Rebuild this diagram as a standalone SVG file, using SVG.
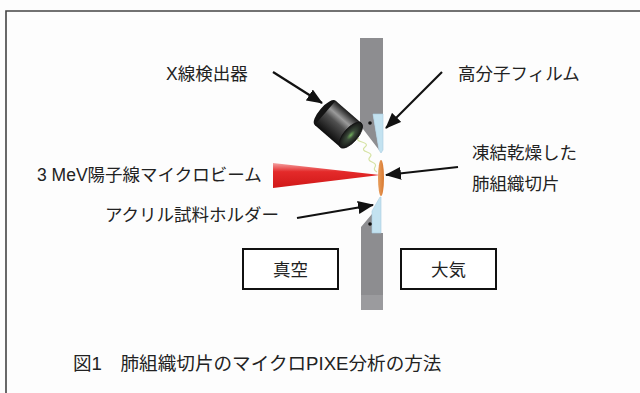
<svg xmlns="http://www.w3.org/2000/svg" width="640" height="393" viewBox="0 0 640 393">
  <style>
    .lbl { font-family: "Liberation Sans", "Noto Sans CJK JP", sans-serif; font-size: 17.5px; fill: #222; }
    .cap { font-family: "Liberation Sans", "Noto Sans CJK JP", sans-serif; font-size: 18.6px; fill: #222; }
    .box { fill: #fff; stroke: #111; stroke-width: 2; }
    .wall { fill: #8d8d90; }
    .film { fill: #c3e2f0; stroke: #a9cde0; stroke-width: 0.6; }
    .arrow { stroke: #111; stroke-width: 2.2; fill: none; marker-end: url(#head); }
  </style>
  <defs>
    <marker id="head" viewBox="0 0 16 13" refX="15" refY="6.5" markerWidth="16" markerHeight="13" markerUnits="userSpaceOnUse" orient="auto">
      <path d="M0,0 L16,6.5 L0,13 z" fill="#111"/>
    </marker>
    <linearGradient id="beamGrad" x1="0" y1="0" x2="0" y2="1">
      <stop offset="0" stop-color="#f4a3a3"/>
      <stop offset="0.35" stop-color="#e42a2a"/>
      <stop offset="1" stop-color="#d01818"/>
    </linearGradient>
    <linearGradient id="bodyGrad" x1="0" y1="0" x2="0" y2="1">
      <stop offset="0" stop-color="#1a1a1a"/>
      <stop offset="0.3" stop-color="#9a9a9a"/>
      <stop offset="0.5" stop-color="#505050"/>
      <stop offset="1" stop-color="#0d0d0d"/>
    </linearGradient>
    <radialGradient id="faceGrad" cx="0.5" cy="0.5" r="0.5">
      <stop offset="0" stop-color="#6fae5a"/>
      <stop offset="0.35" stop-color="#3b4a3a"/>
      <stop offset="1" stop-color="#151515"/>
    </radialGradient>
    <linearGradient id="sampleGrad" x1="0" y1="0" x2="1" y2="0">
      <stop offset="0" stop-color="#e8a060"/>
      <stop offset="1" stop-color="#d9782e"/>
    </linearGradient>
  </defs>

  <rect width="640" height="393" fill="#fdfdfd"/>
  <!-- frame (open to the right and bottom) -->
  <path d="M6,393 V11 H640" fill="none" stroke="#444" stroke-width="1.6"/>

  <!-- sample chamber wall -->
  <g id="wall">
    <path class="wall" d="M360,38 H383 V114 H373 L379,150 L360,125 Z"/>
    <path class="film" d="M373,114 H383 V150 L381,153 L379,150 Z"/>
    <circle cx="370" cy="123" r="1.8" fill="#111"/>
    <path class="wall" d="M372,214 L361,227 V310 H383 V233 H372 Z"/>
    <rect x="361" y="295" width="22" height="15" fill="#9b9b9e"/>
    <path class="film" d="M380,197 L372,211 V233 H381 V197 Z"/>
    <circle cx="370" cy="224" r="1.8" fill="#111"/>
  </g>

  <!-- proton micro beam -->
  <g id="beam">
    <path d="M273,163 L380,175 L273,188 Z" fill="url(#beamGrad)"/>
  </g>

  <!-- freeze-dried lung section -->
  <g id="sample">
    <ellipse cx="381" cy="178" rx="3" ry="18" fill="url(#sampleGrad)"/>
  </g>

  <!-- characteristic X-rays towards detector -->
  <g id="xray">
    <path d="M377,172 q-4,-2 -2,-5 t-3,-5 t-2,-5 t-3,-5 t-2,-5 t-3,-5 t-3,-4" fill="none" stroke="#d6e3a4" stroke-width="1.2"/>
  </g>

  <!-- X-ray detector -->
  <g id="detector" transform="translate(338,124) rotate(41)">
    <ellipse cx="-17" cy="0" rx="6" ry="16" fill="#141414"/>
    <rect x="-17" y="-16" width="34" height="32" fill="url(#bodyGrad)"/>
    <ellipse cx="17" cy="0" rx="7" ry="16" fill="url(#faceGrad)" stroke="#111" stroke-width="0.8"/>
  </g>

  <!-- leader arrows -->
  <g id="connectors">
    <line class="arrow" x1="273" y1="72" x2="322" y2="103"/>
    <line class="arrow" x1="442" y1="72" x2="386" y2="128"/>
    <line class="arrow" x1="458" y1="167" x2="386" y2="175"/>
    <line class="arrow" x1="297" y1="218" x2="373" y2="205"/>
  </g>

  <g id="label-detector"><text class="lbl" x="166" y="80">X線検出器</text></g>
  <g id="label-film"><text class="lbl" x="458" y="80">高分子フィルム</text></g>
  <g id="label-sample">
    <text class="lbl" x="472" y="159">凍結乾燥した</text>
    <text class="lbl" x="472" y="190">肺組織切片</text>
  </g>
  <g id="label-beam"><text class="lbl" x="37" y="181">3 MeV陽子線マイクロビーム</text></g>
  <g id="label-holder"><text class="lbl" x="105" y="221">アクリル試料ホルダー</text></g>

  <g id="vacuum">
    <rect class="box" x="243" y="249" width="95" height="40"/>
    <text class="lbl" x="290.5" y="276" text-anchor="middle" font-size="18">真空</text>
  </g>
  <g id="air">
    <rect class="box" x="401" y="249" width="95" height="40"/>
    <text class="lbl" x="448.5" y="276" text-anchor="middle" font-size="18">大気</text>
  </g>

  <g id="caption"><text class="cap" x="73" y="370">図1　肺組織切片のマイクロPIXE分析の方法</text></g>
</svg>
